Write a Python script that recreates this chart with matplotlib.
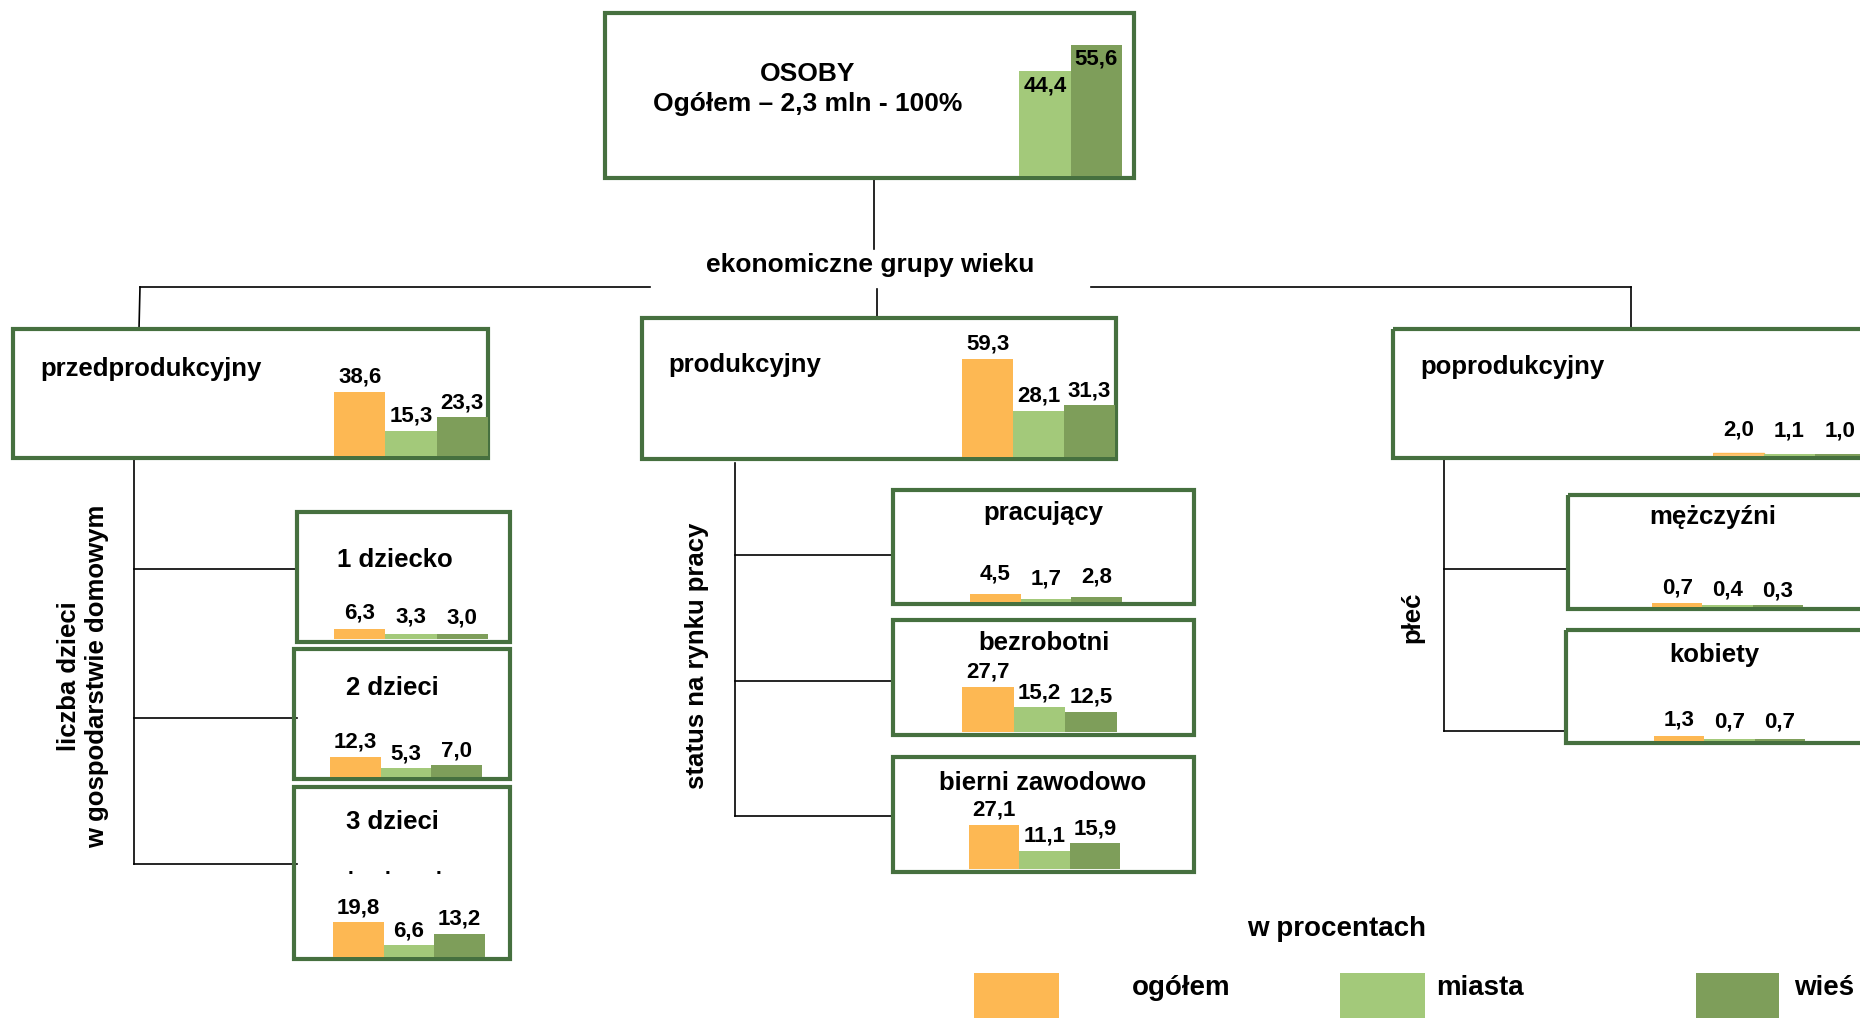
import matplotlib
matplotlib.use('Agg')
import matplotlib.pyplot as plt
from matplotlib.patches import Rectangle

# Data (percent)
series = ['ogółem', 'miasta', 'wieś']
osoby = [44.4, 55.6]  # miasta, wieś
przedprodukcyjny = [38.6, 15.3, 23.3]
produkcyjny = [59.3, 28.1, 31.3]
poprodukcyjny = [2.0, 1.1, 1.0]
dziecko_1 = [6.3, 3.3, 3.0]
dzieci_2 = [12.3, 5.3, 7.0]
dzieci_3 = [19.8, 6.6, 13.2]
pracujacy = [4.5, 1.7, 2.8]
bezrobotni = [27.7, 15.2, 12.5]
bierni = [27.1, 11.1, 15.9]
mezczyzni = [0.7, 0.4, 0.3]
kobiety = [1.3, 0.7, 0.7]

# Colours
ORANGE = '#FDB853'
LIGHT = '#A3C97A'
DARK = '#7E9E5A'
EDGE = '#46703F'
COLORS = [ORANGE, LIGHT, DARK]

plt.rcParams['font.family'] = ['Liberation Sans', 'DejaVu Sans']
plt.rcParams['font.weight'] = 'bold'
plt.rcParams['hatch.linewidth'] = 1.0

W, H = 1860, 1018
fig = plt.figure(figsize=(W / 100, H / 100), dpi=100)
ax = fig.add_axes([0, 0, 1, 1])
ax.set_xlim(0, W)
ax.set_ylim(H, 0)
ax.axis('off')

VAL = 16
TITLE = 18.5


def fmt(v):
    return f"{v:.1f}".replace('.', ',')


def box(x0, y0, x1, y1):
    ax.add_patch(Rectangle((x0, y0), x1 - x0, y1 - y0, fill=False,
                           edgecolor=EDGE, linewidth=3, zorder=3))


def line(xs, ys):
    ax.plot(xs, ys, color='black', linewidth=1.2, zorder=1)


def bars(x0, x1, bottom, top, values, colors, scale, pad=3, inside=False, hatch_first=False):
    bax = fig.add_axes([x0 / W, 1 - bottom / H, (x1 - x0) / W, (bottom - top) / H])
    bax.set_xlim(-0.5, len(values) - 0.5)
    bax.set_ylim(0, (bottom - top) / scale)
    bax.axis('off')
    rects = bax.bar(range(len(values)), values, width=1.0, color=colors, linewidth=0)
    if hatch_first:
        rects[0].set_facecolor('#FEE6C2')
        rects[0].set_edgecolor(ORANGE)
        rects[0].set_hatch('-----')
        rects[0].set_linewidth(1)
    if inside:
        for i, v in enumerate(values):
            bax.annotate(fmt(v), (i, v), xytext=(0, -3), textcoords='offset points',
                         ha='center', va='top', fontsize=VAL, fontweight='bold')
    else:
        bax.bar_label(rects, labels=[fmt(v) for v in values], padding=pad,
                      fontsize=VAL, fontweight='bold')
    return bax


# Top box
box(605, 13, 1134, 178)
ax.text(808, 74, 'OSOBY', ha='center', va='center', fontsize=19)
ax.text(808, 104, 'Ogółem – 2,3 mln - 100%', ha='center', va='center', fontsize=19)
bars(1019, 1122, 176, 16, osoby, [LIGHT, DARK], 2.36, inside=True)

# Connectors to age groups
line([874, 874], [178, 249])
ax.text(870, 265, 'ekonomiczne grupy wieku', ha='center', va='center', fontsize=19)
line([140, 650], [287, 287])
line([1091, 1631], [287, 287])
line([140, 139], [287, 329])
line([877, 877], [289, 318])
line([1631, 1631], [287, 329])

# Age-group boxes
box(13, 329, 488, 458)
ax.text(40, 369, 'przedprodukcyjny', ha='left', va='center', fontsize=TITLE)
bars(334, 488, 456, 331, przedprodukcyjny, COLORS, 1.66)

box(642, 318, 1116, 459)
ax.text(668, 365, 'produkcyjny', ha='left', va='center', fontsize=TITLE)
bars(962, 1115, 457, 320, produkcyjny, COLORS, 1.65)

box(1393, 329, 1875, 458)
ax.text(1420, 367, 'poprodukcyjny', ha='left', va='center', fontsize=TITLE)
bars(1713, 1866, 456, 331, poprodukcyjny, COLORS, 1.65, pad=9, hatch_first=True)

# Children subtree
line([134, 134], [459, 864])
for y in (569, 718, 864):
    line([134, 297], [y, y])
ax.text(83, 676, 'liczba dzieci\nw gospodarstwie domowym', rotation=90,
        ha='center', va='center', multialignment='center', fontsize=TITLE,
        linespacing=1.25)

box(297, 512, 510, 642)
ax.text(395, 560, '1 dziecko', ha='center', va='center', fontsize=TITLE)
bars(334, 488, 639, 514, dziecko_1, COLORS, 1.65, pad=4)

box(294, 649, 510, 779)
ax.text(392, 688, '2 dzieci', ha='center', va='center', fontsize=TITLE)
bars(330, 482, 777, 651, dzieci_2, COLORS, 1.65)

box(294, 787, 510, 959)
ax.text(392, 822, '3 dzieci', ha='center', va='center', fontsize=TITLE)
for x in (350, 387, 438):
    ax.text(x, 868, '.', ha='center', va='center', fontsize=15)
bars(333, 485, 957, 789, dzieci_3, COLORS, 1.75)

# Labour market subtree
line([735, 735], [463, 816])
for y in (555, 681, 816):
    line([735, 893], [y, y])
ax.text(697, 656, 'status na rynku pracy', rotation=90, ha='center', va='center',
        fontsize=TITLE)

box(893, 490, 1194, 604)
ax.text(1043, 513, 'pracujący', ha='center', va='center', fontsize=TITLE)
bars(970, 1122, 602, 530, pracujacy, COLORS, 1.8, pad=7)

box(893, 620, 1194, 735)
ax.text(1044, 643, 'bezrobotni', ha='center', va='center', fontsize=TITLE)
bars(962, 1117, 732, 622, bezrobotni, COLORS, 1.62)

box(893, 757, 1194, 872)
ax.text(1043, 783, 'bierni zawodowo', ha='center', va='center', fontsize=TITLE)
bars(969, 1120, 869, 759, bierni, COLORS, 1.62)

# Sex subtree
line([1444, 1444], [459, 731])
for y in (569, 731):
    line([1444, 1567], [y, y])
ax.text(1412, 617, 'płeć', rotation=90, ha='center', va='center', fontsize=TITLE)

box(1568, 495, 1875, 609)
ax.text(1713, 517, 'mężczyźni', ha='center', va='center', fontsize=TITLE)
bars(1652, 1803, 607, 540, mezczyzni, COLORS, 6.0, pad=3)

box(1566, 630, 1875, 743)
ax.text(1714, 655, 'kobiety', ha='center', va='center', fontsize=TITLE)
bars(1654, 1805, 741, 680, kobiety, COLORS, 3.5, pad=4)

# Legend
ax.text(1337, 929, 'w procentach', ha='center', va='center', fontsize=20)
for (x0, x1), name, cx, c in zip([(974, 1059), (1340, 1425), (1696, 1779)], series,
                                 [1181, 1480, 1824], COLORS):
    ax.add_patch(Rectangle((x0, 973), x1 - x0, 50, color=c, linewidth=0))
    ax.text(cx, 988, name, ha='center', va='center', fontsize=20)

fig.savefig('out.png', dpi=100)
